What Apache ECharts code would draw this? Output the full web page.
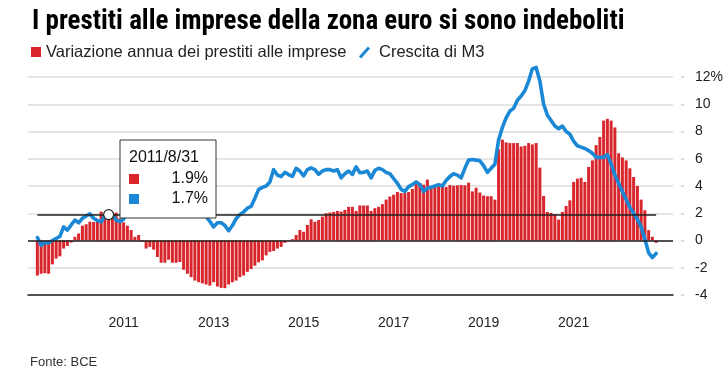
<!DOCTYPE html>
<html><head><meta charset="utf-8">
<script src="https://cdn.jsdelivr.net/npm/echarts@6/dist/echarts.min.js"></script>
<style>html,body{margin:0;padding:0;background:#fff}#c{width:728px;height:381px}</style>
</head><body><div id="c"></div>
<script>
// ---- data ----
const startYear = 2010, startMonth = 1;
const loanGrowth = [
-2.57,-2.44,-2.4,-2.44,-1.75,-1.33,-1.16,-0.59,-0.4,-0.15,0.27,0.52,
1.09,1.19,1.38,1.36,1.36,2.12,1.95,1.9,1.75,2.05,1.63,1.33,
1.09,0.77,0.27,0.4,-0.1,-0.59,-0.47,-0.67,-1.21,-1.63,-1.63,-1.41,
-1.63,-1.63,-1.58,-2.15,-2.44,-2.69,-2.94,-3.06,-3.14,-3.23,-3.31,-3.06,
-3.38,-3.48,-3.5,-3.23,-3.06,-2.94,-2.69,-2.57,-2.3,-2.1,-1.85,-1.6,
-1.46,-1.09,-0.84,-0.77,-0.59,-0.47,-0.17,-0.05,0.1,0.4,0.77,0.64,
1.14,1.56,1.38,1.5,1.75,2.0,2.05,2.1,2.17,2.12,2.25,2.47,
2.47,2.17,2.57,2.57,2.57,2.17,2.37,2.47,2.67,3.0,3.23,3.36,
3.56,3.48,3.48,3.56,3.78,4.17,4.22,4.1,4.47,4.0,4.0,3.98,
4.15,3.93,4.07,4.02,4.05,4.07,4.05,4.25,3.6,3.87,3.52,3.3,
3.25,3.25,3.0,6.7,7.4,7.2,7.15,7.15,7.15,6.9,6.95,7.15,
7.05,7.15,5.35,3.27,2.1,2.02,1.93,1.54,2.1,2.54,2.95,4.3,
4.54,4.6,4.3,5.4,5.88,7.0,7.6,8.8,8.93,8.8,8.3,6.4,
6.1,5.88,5.3,4.66,4.0,3.0,2.22,0.76,0.27,-0.17
];
const m3Growth = [
0.22,-0.35,-0.15,-0.17,0.0,0.15,0.3,1.0,0.77,1.14,1.5,1.3,
1.63,1.8,1.95,1.63,1.46,1.38,1.8,1.7,1.88,1.5,1.38,1.56,
2.1,2.4,2.8,2.5,2.9,3.1,3.3,2.8,2.6,3.5,3.6,3.3,
3.3,3.0,2.6,3.0,2.8,2.4,2.2,2.1,1.9,1.75,1.4,1.0,
1.3,1.3,1.1,0.72,1.1,1.6,1.9,2.1,2.37,2.5,3.1,3.75,
3.9,4.0,4.3,5.2,4.8,4.7,5.0,4.84,4.7,5.3,5.1,4.75,
5.2,5.33,5.2,4.85,5.1,5.2,5.2,5.1,5.2,4.6,4.9,5.1,
4.85,5.4,4.97,5.0,5.1,4.6,5.15,5.3,5.2,5.0,4.9,4.55,
4.2,3.75,3.6,3.95,4.1,4.3,4.1,3.6,3.85,3.9,4.0,4.1,
4.0,4.4,4.7,4.9,4.8,4.6,5.3,5.9,5.95,5.9,5.85,5.5,
5.0,5.3,5.6,7.4,8.3,9.0,9.5,9.7,10.3,10.6,11.0,11.7,
12.6,12.7,11.7,10.0,9.2,8.8,8.4,8.2,8.4,8.0,7.8,7.3,
6.95,6.85,6.75,6.6,6.4,6.1,6.1,6.1,6.3,5.6,4.8,4.2,
3.6,3.0,2.45,2.0,1.55,1.0,0.1,-0.9,-1.25,-0.95
];
const yearTicks = [2011, 2013, 2015, 2017, 2019, 2021];
const yTicks = [-4, -2, 0, 2, 4, 6, 8, 10, 12];
const tooltipDate = '2011/8/31';
const seriesNames = ['Variazione annua dei prestiti alle imprese', 'Crescita di M3'];
const titleText = 'I prestiti alle imprese della zona euro si sono indeboliti';
const sourceText = 'Fonte: BCE';

// ---- build categories ----
const months = [];
for (let k = 0; k < loanGrowth.length; k++) {
  const t = startMonth - 1 + k;
  const y = startYear + Math.floor(t / 12), m = t % 12 + 1;
  const d = new Date(y, m, 0).getDate();
  months.push(y + '/' + m + '/' + d);
}
const padL = 2, padR = 4;
const cats = [];
for (let i = 0; i < padL; i++) cats.push('L' + i);
months.forEach(m => cats.push(m));
for (let i = 0; i < padR; i++) cats.push('R' + i);
const padNull = n => new Array(n).fill(null);
const barData = padNull(padL).concat(loanGrowth, padNull(padR));
const lineData = padNull(padL).concat(m3Growth, padNull(padR));

const tipIdx = months.indexOf(tooltipDate);
const tipBar = loanGrowth[tipIdx], tipM3 = m3Growth[tipIdx];

const RED = '#d9262c', BLUE = '#1b88d6', FONT = "'Liberation Sans', Arial, sans-serif";

function isYearTick(index, value) {
  if (typeof value !== 'string' || value.indexOf('/') < 0) return false;
  const p = value.split('/');
  return p[1] === '12' && yearTicks.indexOf(+p[0]) >= 0;
}

const chart = echarts.init(document.getElementById('c'), null, {renderer: 'canvas'});
chart.setOption({
  animation: false,
  textStyle: {fontFamily: FONT},
  title: {
    text: titleText, left: 27, top: 4,
    textStyle: {fontSize: 27, fontWeight: 'bold', color: '#000',
      fontFamily: "'Liberation Sans Narrow', 'Roboto Condensed', 'Liberation Sans', sans-serif"}
  },
  grid: {left: 28, right: 55, top: 77, bottom: 86, containLabel: false},
  xAxis: {
    type: 'category', data: cats, boundaryGap: true,
    axisLine: {onZero: false, lineStyle: {color: '#222', width: 1.5}},
    axisTick: {interval: isYearTick, alignWithLabel: true, length: 6, lineStyle: {color: '#222', width: 1.2}},
    axisLabel: {interval: isYearTick, margin: 21, fontSize: 14, color: '#222',
      formatter: v => v.split('/')[0]},
    splitLine: {show: false}
  },
  yAxis: [{
    type: 'value', position: 'right', min: yTicks[0], max: yTicks[yTicks.length - 1], interval: 2,
    axisLine: {show: false}, axisTick: {show: false},
    axisLabel: {margin: 22, fontSize: 14, color: '#222',
      formatter: v => v === yTicks[yTicks.length - 1] ? v + '%' : String(v)},
    splitLine: {show: true, lineStyle: {color: '#dcdcdc', width: 1.5}}
  }, {
    type: 'value', position: 'right', offset: 8, min: yTicks[0], max: yTicks[yTicks.length - 1], interval: 2,
    axisLine: {show: false},
    axisTick: {show: true, length: 3, lineStyle: {color: '#cfcfcf', width: 1.5}},
    axisLabel: {show: false}, splitLine: {show: false}
  }],
  series: [{
    name: seriesNames[0], type: 'bar', data: barData, barWidth: 3,
    itemStyle: {color: RED}, z: 2,
    markLine: {
      silent: true, symbol: ['none', 'none'], label: {show: false},
      lineStyle: {color: '#222', width: 1.5, type: 'solid'},
      data: [
        {yAxis: 0},
        [{coord: [months[0], tipBar]}, {coord: [months[months.length - 1], tipBar]}]
      ]
    }
  }, {
    name: seriesNames[1], type: 'line', data: lineData, showSymbol: false, z: 3, clip: false,
    lineStyle: {color: BLUE, width: 3.6, join: 'round', cap: 'round'}, itemStyle: {color: BLUE},
    markPoint: {
      silent: true, symbol: 'circle', symbolSize: 10, label: {show: false},
      itemStyle: {color: '#fff', borderColor: '#222', borderWidth: 1.2},
      data: [{coord: [tooltipDate, tipBar]}]
    }
  }]
});

const p = chart.convertToPixel({xAxisIndex: 0, yAxisIndex: 0}, [tooltipDate, tipBar]);
const bx = Math.round(p[0] + 11), by = Math.round(p[1] - 75);
const LEGFONT = '16.5px ' + FONT;
chart.setOption({
  graphic: [
    // legend
    {type: 'rect', left: 31, top: 47, shape: {width: 10, height: 10}, style: {fill: RED}, z: 100},
    {type: 'text', x: 46, y: 52.5, style: {text: seriesNames[0], font: LEGFONT, fill: '#222', verticalAlign: 'middle'}, z: 100},
    {type: 'line', shape: {x1: 360, y1: 57.5, x2: 369, y2: 47.5}, style: {stroke: BLUE, lineWidth: 3}, z: 100},
    {type: 'text', x: 379, y: 52.5, style: {text: seriesNames[1], font: LEGFONT, fill: '#222', verticalAlign: 'middle'}, z: 100},
    // source
    {type: 'text', x: 30, y: 362, style: {text: sourceText, font: '13px ' + FONT, fill: '#333', verticalAlign: 'middle'}, z: 100},
    // tooltip box
    {type: 'rect', x: bx, y: by, shape: {x: 0, y: 0, width: 96, height: 78}, style: {fill: '#fff', stroke: '#333', lineWidth: 1}, z: 100},
    {type: 'text', x: bx + 9, y: by + 18, style: {text: tooltipDate, font: '16px ' + FONT, fill: '#111', verticalAlign: 'middle'}, z: 101},
    {type: 'rect', x: bx + 9, y: by + 34, shape: {x: 0, y: 0, width: 10, height: 10}, style: {fill: RED}, z: 101},
    {type: 'text', x: bx + 88, y: by + 39, style: {text: tipBar.toFixed(1) + '%', font: '16px ' + FONT, fill: '#111', align: 'right', verticalAlign: 'middle'}, z: 101},
    {type: 'rect', x: bx + 9, y: by + 54, shape: {x: 0, y: 0, width: 10, height: 10}, style: {fill: BLUE}, z: 101},
    {type: 'text', x: bx + 88, y: by + 59, style: {text: tipM3.toFixed(1) + '%', font: '16px ' + FONT, fill: '#111', align: 'right', verticalAlign: 'middle'}, z: 101}
  ]
});
</script>
</body></html>
